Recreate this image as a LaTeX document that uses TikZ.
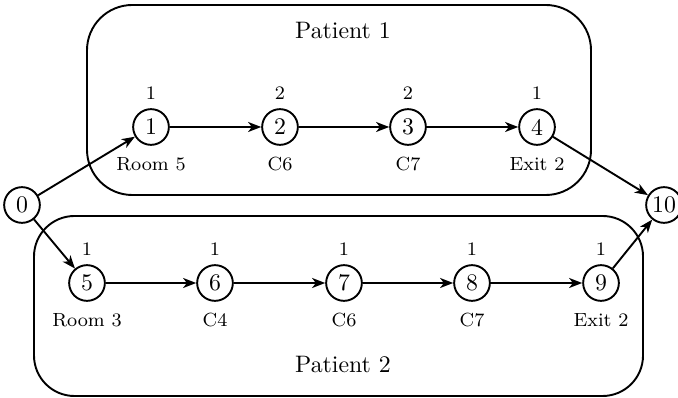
\documentclass[tikz,border=0pt]{standalone}
\usetikzlibrary{arrows.meta}
\begin{document}
\begin{tikzpicture}[x=0.42pt,y=-0.42pt,
  state/.style={draw,circle,thick,minimum size=15pt,inner sep=1pt},
  flow/.style={thick,-{Stealth[length=5.5pt,width=4.2pt,inset=1.6pt]}},
  group/.style={draw,thick},
  lbl/.style={font=\footnotesize}]
\useasboundingbox (0,0) rectangle (678,398);

% patient groups
\draw[group,rounded corners=19pt] (87,5) rectangle (591,195);
\draw[group,rounded corners=17pt] (34,216) rectangle (643,396);
\node (p1) at (343,31) {Patient 1};
\node (p2) at (343,364) {Patient 2};

% source and sink
\node[state] (n0) at (22,205) {0};
\node[state] (n10) at (664,205) {10};

% patient 1 path
\node[state] (n1) at (151,127) {1};
\node[state] (n2) at (280,127) {2};
\node[state] (n3) at (408,127) {3};
\node[state] (n4) at (537,127) {4};

% patient 2 path
\node[state] (n5) at (87,283) {5};
\node[state] (n6) at (215,283) {6};
\node[state] (n7) at (344,283) {7};
\node[state] (n8) at (472,283) {8};
\node[state] (n9) at (601,283) {9};

% demands above, locations below
\foreach \n/\d/\l in {n1/1/Room 5, n2/2/C6, n3/2/C7, n4/1/Exit 2,
                      n5/1/Room 3, n6/1/C4, n7/1/C6, n8/1/C7, n9/1/Exit 2}{
  \node[lbl,above=0.3pt] (\n d) at (\n.north) {\d};
  \node[lbl,below=1.3pt] (\n l) at (\n.south) {\l};
}

% arcs
\draw[flow] (n0) -- (n1);
\draw[flow] (n0) -- (n5);
\draw[flow] (n1) -- (n2);
\draw[flow] (n2) -- (n3);
\draw[flow] (n3) -- (n4);
\draw[flow] (n4) -- (n10);
\draw[flow] (n5) -- (n6);
\draw[flow] (n6) -- (n7);
\draw[flow] (n7) -- (n8);
\draw[flow] (n8) -- (n9);
\draw[flow] (n9) -- (n10);
\end{tikzpicture}
\end{document}
